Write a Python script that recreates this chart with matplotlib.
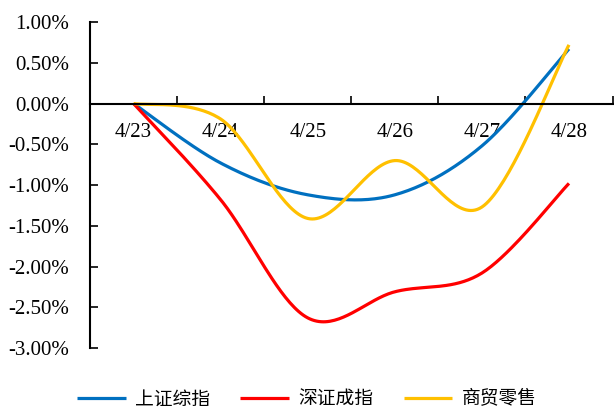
import numpy as np
import matplotlib
matplotlib.use("Agg")
import matplotlib.pyplot as plt
from matplotlib.ticker import FixedLocator, NullFormatter

# data (daily cumulative change, %)
dates = ['4/23', '4/24', '4/25', '4/26', '4/27', '4/28']
sh_index = [0.0, -0.73, -1.12, -1.12, -0.52, 0.67]
sz_index = [0.0, -1.18, -2.63, -2.31, -2.08, -0.98]
retail = [0.0, -0.19, -1.41, -0.70, -1.27, 0.72]

series = [
    ('上证综指', sh_index, '#0070C0'),
    ('深证成指', sz_index, '#FF0000'),
    ('商贸零售', retail, '#FFC000'),
]


def smooth(y, n=40):
    # Catmull-Rom style bezier, like Excel's smoothed line
    x = np.arange(len(y), dtype=float)
    pts = np.column_stack([x, np.asarray(y, dtype=float)])
    ext = np.vstack([pts[0], pts, pts[-1]])
    out = []
    t = np.linspace(0, 1, n)[:, None]
    for i in range(len(pts) - 1):
        p0, p1, p2, p3 = ext[i], ext[i + 1], ext[i + 2], ext[i + 3]
        c1 = p1 + (p2 - p0) / 6
        c2 = p2 - (p3 - p1) / 6
        seg = ((1 - t) ** 3) * p1 + 3 * ((1 - t) ** 2) * t * c1 + 3 * (1 - t) * t ** 2 * c2 + t ** 3 * p2
        out.append(seg if i == 0 else seg[1:])
    out = np.vstack(out)
    return out[:, 0], out[:, 1]


plt.rcParams['font.family'] = ['Liberation Serif', 'Noto Sans CJK SC']

fig = plt.figure(figsize=(6.14, 4.08), dpi=100)
ax = fig.add_axes([0.1466, 0.147, 0.851, 0.799])

for name, vals, color in series:
    xs, ys = smooth(vals)
    ax.plot(xs, ys, color=color, lw=2.3, label=name, solid_capstyle='butt')

ax.set_xlim(-0.5, len(dates) - 0.5)
ax.set_ylim(-3.0, 1.0)
ax.set_yticks(np.arange(-3.0, 1.01, 0.5))
ax.set_yticklabels([f'{v:.2f}%' for v in np.arange(-3.0, 1.01, 0.5)], fontsize=15)

ax.spines['top'].set_visible(False)
ax.spines['right'].set_visible(False)
ax.spines['bottom'].set_position(('data', 0))
ax.spines['left'].set_linewidth(1.5)
ax.spines['bottom'].set_linewidth(1.5)

ax.xaxis.set_major_locator(FixedLocator(np.arange(-0.5, len(dates), 1.0)))
ax.xaxis.set_major_formatter(NullFormatter())
ax.xaxis.set_minor_locator(FixedLocator(np.arange(len(dates))))
ax.set_xticklabels(dates, minor=True, fontsize=15)
ax.tick_params(axis='x', which='major', direction='in', length=6, width=1.2)
ax.tick_params(axis='x', which='minor', length=0, pad=14)
ax.tick_params(axis='y', direction='in', length=6, width=1.2, pad=15)

fig.legend(loc='lower center', ncol=3, bbox_to_anchor=(0.5, -0.045), frameon=False,
           prop={'family': 'Noto Sans CJK SC', 'size': 13.5},
           handlelength=2.6, columnspacing=1.6, handletextpad=0.5)

fig.savefig('out.png', dpi=100)
